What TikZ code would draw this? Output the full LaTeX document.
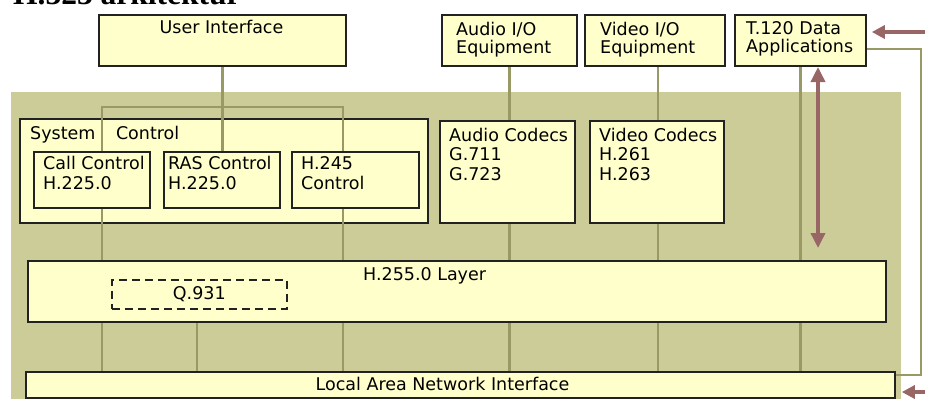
\documentclass[tikz,border=0pt]{standalone}
\usepackage{fontspec}
\setmainfont{DejaVu Sans}
\newfontfamily\titlefont{Liberation Serif}
\usepackage{tikz}
\usetikzlibrary{calc}
\usetikzlibrary{arrows.meta}
\definecolor{olivebg}{HTML}{CCCC99}
\definecolor{boxfill}{HTML}{FFFFCC}
\definecolor{wirecol}{HTML}{999966}
\definecolor{arrowcol}{HTML}{996666}
\definecolor{edgecol}{HTML}{222222}
\tikzset{
	boxstyle/.style={rectangle,draw=edgecol,line width=1.8pt,fill=boxfill,anchor=north west,inner sep=0pt},
	dashstyle/.style={rectangle,draw=edgecol,line width=1.6pt,dash pattern=on 8pt off 5pt,anchor=north west,inner sep=0pt},
	textstyle/.style={anchor=north west,inner sep=0pt,align=left,font=\fontsize{17.5}{19.5}\selectfont},
	iostyle/.style={textstyle,font=\fontsize{17.5}{17.5}\selectfont},
	titlestyle/.style={anchor=base west,inner sep=0pt,font=\titlefont\bfseries\fontsize{31.5}{32}\selectfont},
	wirestyle/.style={draw=wirecol,line width=2.8pt},
	arrowstyle/.style={draw=arrowcol,line width=3.5pt,-{Triangle[width=13pt,length=13pt]}}
}
\begin{document}
\begin{tikzpicture}[x=1pt,y=-1pt]
	\path[use as bounding box,clip] (0,0) rectangle (925,399);
	\node[titlestyle] (title) at (13,4) {H.323 arkitektur};
	\fill[olivebg] (11,92) rectangle (901,399);
	% boxes
	\node[boxstyle,minimum width=247,minimum height=51] (ui) at (98,14) {};
	\node[boxstyle,minimum width=135,minimum height=51] (aio) at (441,14) {};
	\node[boxstyle,minimum width=140,minimum height=51] (vio) at (584,14) {};
	\node[boxstyle,minimum width=131,minimum height=51] (t120) at (734,14) {};
	\node[boxstyle,minimum width=408,minimum height=104] (sys) at (19,118) {};
	\coordinate (busl) at (102,107);
	\coordinate (busr) at (343,107);
	\coordinate (colq) at (197,0);
	\coordinate (colv) at (658,0);
	\coordinate (rtop) at (921,49);
	\coordinate (rbot) at (921,375);
	\coordinate (dtop) at (818,67);
	\coordinate (dbot) at (818,248);
	\coordinate (intop) at (925,32);
	\coordinate (inbot) at (925,392);
	\node[boxstyle,minimum width=116,minimum height=56] (cc) at (33,151) {};
	\node[boxstyle,minimum width=116,minimum height=56] (ras) at (163,151) {};
	\node[boxstyle,minimum width=127,minimum height=56] (h245) at (291,151) {};
	\node[boxstyle,minimum width=135,minimum height=102] (ac) at (439,120) {};
	\node[boxstyle,minimum width=134,minimum height=102] (vc) at (589,120) {};
	\node[boxstyle,minimum width=858,minimum height=61] (layer) at (27,260) {};
	\node[dashstyle,minimum width=175,minimum height=29] (q931) at (111,279) {};
	\node[boxstyle,minimum width=869,minimum height=26] (lan) at (25,371) {};
	% connectors
	\draw[wirestyle] (ui.south) -- (ras.north -| ui.south);
	\draw[wirestyle] (cc.north -| busl) -- (busl) -- (busr) -- (h245.north -| busr);
	\draw[wirestyle] (cc.south -| busl) -- (layer.north -| busl);
	\draw[wirestyle] (h245.south -| busr) -- (layer.north -| busr);
	\draw[wirestyle] (aio.south) -- (ac.north -| aio.south);
	\draw[wirestyle] (ac.south -| aio.south) -- (layer.north -| aio.south);
	\draw[wirestyle] (vio.south -| colv) -- (vc.north -| colv);
	\draw[wirestyle] (vc.south -| colv) -- (layer.north -| colv);
	\draw[wirestyle] (t120.south) -- (layer.north -| t120.south);
	\draw[wirestyle] (layer.south -| busl) -- (lan.north -| busl);
	\draw[wirestyle] (layer.south -| colq) -- (lan.north -| colq);
	\draw[wirestyle] (layer.south -| busr) -- (lan.north -| busr);
	\draw[wirestyle] (layer.south -| aio.south) -- (lan.north -| aio.south);
	\draw[wirestyle] (layer.south -| colv) -- (lan.north -| colv);
	\draw[wirestyle] (layer.south -| t120.south) -- (lan.north -| t120.south);
	\draw[wirestyle] (t120.east |- rtop) -- (rtop) -- (rbot) -- (lan.east |- rbot);
	\draw[arrowstyle,{Triangle[width=14pt,length=15pt]}-{Triangle[width=14pt,length=15pt]}] (dtop) -- (dbot);
	\draw[arrowstyle] (intop) -- ($(t120.east |- intop)+(5,0)$);
	\draw[arrowstyle] (inbot) -- ($(lan.east |- inbot)+(6,0)$);
	% texts
	\node[textstyle,anchor=north] (uitext) at (221.5,20.5) {User Interface};
	\node[iostyle] (aiotext) at (456,22.5) {Audio I/O\\Equipment};
	\node[iostyle] (viotext) at (600,22.5) {Video I/O\\Equipment};
	\node[iostyle] (t120text) at (746,21.5) {T.120 Data\\Applications};
	\node[textstyle] (systext) at (30,126.5) {System\hspace{15pt} Control};
	\node[textstyle] (cctext) at (43,156.5) {Call Control\\H.225.0};
	\node[textstyle] (rastext) at (168,156.5) {RAS Control\\H.225.0};
	\node[textstyle] (h245text) at (301,156.5) {H.245\\Control};
	\node[textstyle] (actext) at (449,127.5) {Audio Codecs\\G.711\\G.723};
	\node[textstyle] (vctext) at (599,127.5) {Video Codecs\\H.261\\H.263};
	\node[textstyle] (layertext) at (363,267.5) {H.255.0 Layer};
	\node[textstyle,anchor=center] (q931text) at (q931.center) {Q.931};
	\node[textstyle,anchor=center] (lantext) at (442.5,384) {Local Area Network Interface};
\end{tikzpicture}
\end{document}
